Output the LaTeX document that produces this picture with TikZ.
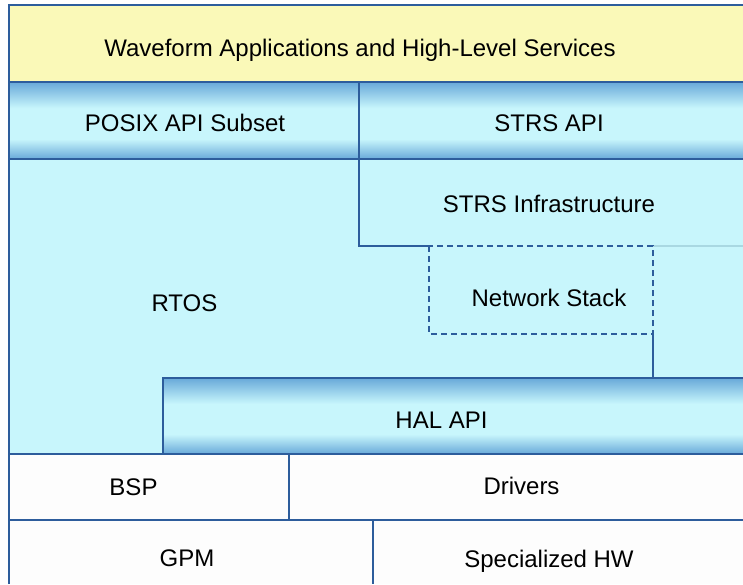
\documentclass[tikz,border=0pt]{standalone}
\usepackage{fontspec}
\setmainfont{Liberation Sans}
\definecolor{bordercol}{HTML}{2D5D9C}
\definecolor{yellowfill}{HTML}{FAF9B8}
\definecolor{cyanfill}{HTML}{C8F6FC}
\definecolor{apiblue}{HTML}{68A9D9}
\definecolor{apilight}{HTML}{C8F6FC}
\definecolor{whitefill}{HTML}{FDFDFD}
\definecolor{faintline}{HTML}{A9D8E2}
\pgfdeclareverticalshading{apishade}{100bp}{color(0bp)=(apiblue); color(25bp)=(apiblue); color(38bp)=(apilight); color(58bp)=(apilight); color(75bp)=(apiblue); color(100bp)=(apiblue)}
\tikzset{
  layer/.style={draw=none},
  api/.style={shading=apishade},
  edge/.style={draw=bordercol, line width=1.6pt},
  dashedge/.style={draw=bordercol, line width=1.4pt, dash pattern=on 6pt off 4pt},
  lbl/.style={anchor=base, inner sep=0pt, font=\fontsize{24}{28}\selectfont, text=black}
}
\begin{document}
\begin{tikzpicture}[x=1pt,y=-1pt]
\useasboundingbox (0,0) rectangle (743,584);
\fill[white] (0,0) rectangle (743,584);
% fills
\fill[yellowfill] (9,5) rectangle (743,82);
\shade[api] (9,82) rectangle (743,159);
\fill[cyanfill] (9,159) rectangle (743,454);
\shade[api] (163,378) rectangle (743,454);
\fill[whitefill] (9,454) rectangle (743,584);
% faint continuation line
\draw[faintline, line width=1.2pt] (653,246) -- (743,246);
% coordinates
\coordinate (tl) at (9,5);
\coordinate (tr) at (743,5);
\coordinate (bl) at (9,584);
\coordinate (y82l) at (9,82);   \coordinate (y82r) at (743,82);
\coordinate (y159l) at (9,159); \coordinate (y159r) at (743,159);
\coordinate (y454l) at (9,454); \coordinate (y454r) at (743,454);
\coordinate (y520l) at (9,520); \coordinate (y520r) at (743,520);
\coordinate (divtop) at (359,82);
\coordinate (divbot) at (359,246);
\coordinate (nsTR) at (653,246);
\coordinate (nsBR) at (653,334);
\coordinate (halTR) at (743,378);
\coordinate (halTL) at (163,378);
\coordinate (halBL) at (163,454);
\coordinate (halJ) at (653,378);
\coordinate (bspT) at (289,454);
\coordinate (bspB) at (289,520);
\coordinate (gpmT) at (373,520);
\coordinate (gpmB) at (373,584);
% lines
\draw[edge] (bl) -- (tl) -- (tr);
\draw[edge] (y82l) -- (y82r);
\draw[edge] (y159l) -- (y159r);
\draw[edge] (divtop) -- (divbot) -- (429,246);
\draw[dashedge] (429,246) rectangle (nsBR);
\draw[edge] (nsBR) -- (halJ);
\draw[edge] (halTR) -- (halTL) -- (halBL);
\draw[edge] (y454l) -- (y454r);
\draw[edge] (y520l) -- (y520r);
\draw[edge] (bspT) -- (bspB);
\draw[edge] (gpmT) -- (gpmB);
% labels
\node[lbl] (wave) at (360,56) {Waveform Applications and High-Level Services};
\node[lbl] (posix) at (185,131) {POSIX API Subset};
\node[lbl] (strsapi) at (549,131) {STRS API};
\node[lbl] (strsinf) at (549,212) {STRS Infrastructure};
\node[lbl] (rtos) at (184.5,311) {RTOS};
\node[lbl] (net) at (549,306) {Network Stack};
\node[lbl] (hal) at (441.5,428) {HAL API};
\node[lbl] (bsp) at (133.5,495) {BSP};
\node[lbl] (drv) at (521.5,494) {Drivers};
\node[lbl] (gpm) at (187,566) {GPM};
\node[lbl] (shw) at (549,567) {Specialized HW};
\end{tikzpicture}
\end{document}
